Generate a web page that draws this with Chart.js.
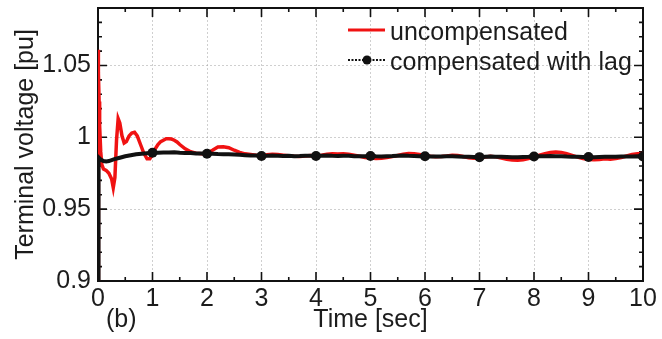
<!DOCTYPE html>
<html>
<head>
<meta charset="utf-8">
<script src="https://cdn.jsdelivr.net/npm/chart.js@4/dist/chart.umd.min.js"></script>
<style>
  html, body { margin: 0; padding: 0; background: #fff; }
  canvas { display: block; }
</style>
</head>
<body>
<canvas id="c" width="662" height="339"></canvas>
<script>
// Terminal voltage after the disturbance, uncompensated case [s, pu]
const redTime = [
  0, 0.004, 0.01, 0.02, 0.03, 0.05, 0.07, 0.1, 0.15, 0.2, 0.25, 0.28, 0.31, 0.34, 0.37,
  0.4, 0.44, 0.48, 0.52, 0.57, 0.62, 0.67, 0.72, 0.78, 0.84, 0.9, 0.95,
  1.0, 1.05, 1.1, 1.15, 1.2, 1.25, 1.3, 1.35, 1.4, 1.45, 1.5, 1.6, 1.7, 1.8, 1.9,
  2.0, 2.1, 2.2, 2.3, 2.4, 2.5, 2.6, 2.7, 2.8, 2.9,
  3.0, 3.1, 3.2, 3.3, 3.4, 3.5, 3.6, 3.7, 3.8, 3.9,
  4.0, 4.1, 4.2, 4.3, 4.4, 4.5, 4.6, 4.7, 4.8, 4.9,
  5.0, 5.1, 5.2, 5.3, 5.4, 5.5, 5.6, 5.7, 5.8, 5.9,
  6.0, 6.1, 6.2, 6.3, 6.4, 6.5, 6.6, 6.7, 6.8, 6.9,
  7.0, 7.1, 7.2, 7.3, 7.4, 7.5, 7.6, 7.7, 7.8, 7.9,
  8.0, 8.1, 8.2, 8.3, 8.4, 8.5, 8.6, 8.7, 8.8, 8.9,
  9.0, 9.1, 9.2, 9.3, 9.4, 9.5, 9.6, 9.7, 9.8, 9.9, 10.0
];
const redVolt = [
  0.85, 1.061, 1.045, 1.025, 1.008, 0.990, 0.981, 0.978, 0.977, 0.975, 0.971, 0.965, 0.972, 0.998, 1.013,
  1.010, 1.001, 0.996, 0.997, 1.001, 1.003, 1.0035, 1.001, 0.995, 0.989, 0.985, 0.985,
  0.988, 0.992, 0.995, 0.997, 0.998, 0.999, 0.999, 0.9988, 0.998, 0.9968, 0.995, 0.992, 0.990, 0.989, 0.9885,
  0.989, 0.991, 0.9932, 0.9935, 0.9928, 0.991, 0.9895, 0.9885, 0.988, 0.9875,
  0.9870, 0.9878, 0.9882, 0.9880, 0.9876, 0.9872, 0.9868, 0.9866, 0.9870, 0.9874,
  0.9872, 0.9876, 0.9882, 0.9885, 0.9884, 0.9886, 0.9882, 0.9876, 0.9868, 0.9860,
  0.9856, 0.9852, 0.9855, 0.9860, 0.9866, 0.9874, 0.9882, 0.9888, 0.9886, 0.9880,
  0.9874, 0.9868, 0.9864, 0.9866, 0.9870, 0.9876, 0.9874, 0.9866, 0.9858, 0.9854,
  0.9856, 0.9862, 0.9868, 0.9864, 0.9856, 0.9848, 0.9842, 0.9840, 0.9844, 0.9852,
  0.9864, 0.9876, 0.9886, 0.9894, 0.9898, 0.9895, 0.9886, 0.9874, 0.9862, 0.9852,
  0.9846, 0.9844, 0.9846, 0.9850, 0.9848, 0.9852, 0.9860, 0.9870, 0.9880, 0.9886, 0.9888
];

// Terminal voltage with the lag compensator [s, pu]
const blackTime = [
  0, 0.01, 0.05, 0.1, 0.15, 0.2, 0.3, 0.4, 0.5, 0.6, 0.7, 0.8, 0.9,
  1.0, 1.1, 1.2, 1.3, 1.4, 1.5, 1.6, 1.7, 1.8, 1.9,
  2.0, 2.1, 2.2, 2.3, 2.4, 2.5, 2.6, 2.7, 2.8, 2.9,
  3.0, 3.1, 3.2, 3.3, 3.4, 3.5, 3.6, 3.7, 3.8, 3.9,
  4.0, 4.1, 4.2, 4.3, 4.4, 4.5, 4.6, 4.7, 4.8, 4.9,
  5.0, 5.1, 5.2, 5.3, 5.4, 5.5, 5.6, 5.7, 5.8, 5.9,
  6.0, 6.1, 6.2, 6.3, 6.4, 6.5, 6.6, 6.7, 6.8, 6.9,
  7.0, 7.1, 7.2, 7.3, 7.4, 7.5, 7.6, 7.7, 7.8, 7.9,
  8.0, 8.1, 8.2, 8.3, 8.4, 8.5, 8.6, 8.7, 8.8, 8.9,
  9.0, 9.1, 9.2, 9.3, 9.4, 9.5, 9.6, 9.7, 9.8, 9.9, 10.0
];
const blackVolt = [
  0.86, 0.986, 0.9845, 0.9835, 0.9832, 0.9835, 0.9848, 0.9858, 0.9868, 0.9875, 0.9882, 0.9886, 0.9889,
  0.9892, 0.9893, 0.9895, 0.9894, 0.9896, 0.9893, 0.9891, 0.9890, 0.9888, 0.9887,
  0.9886, 0.9886, 0.9884, 0.9883, 0.9882, 0.9880, 0.9878, 0.9876, 0.9874, 0.9873,
  0.9870, 0.9872, 0.9874, 0.9872, 0.9870, 0.9871, 0.9869, 0.9870, 0.9872, 0.9871,
  0.9870, 0.9872, 0.9873, 0.9871, 0.9870, 0.9872, 0.9871, 0.9869, 0.9868, 0.9869,
  0.9870, 0.9868, 0.9867, 0.9869, 0.9870, 0.9872, 0.9873, 0.9871, 0.9870, 0.9869,
  0.9868, 0.9867, 0.9866, 0.9867, 0.9868, 0.9869, 0.9867, 0.9865, 0.9864, 0.9863,
  0.9862, 0.9864, 0.9866, 0.9865, 0.9864, 0.9863, 0.9862, 0.9862, 0.9863, 0.9864,
  0.9866, 0.9868, 0.9869, 0.9870, 0.9869, 0.9868, 0.9866, 0.9865, 0.9864, 0.9863,
  0.9863, 0.9862, 0.9863, 0.9864, 0.9864, 0.9865, 0.9866, 0.9867, 0.9867, 0.9868, 0.9867
];

// Marker positions on the compensated trace
const markerTimes = [1, 2, 3, 4, 5, 6, 7, 8, 9, 10];

// Axis ticks
const xMajorTicks = [0, 1, 2, 3, 4, 5, 6, 7, 8, 9, 10];
const xMinorTicks = [0.5, 1.5, 2.5, 3.5, 4.5, 5.5, 6.5, 7.5, 8.5, 9.5];
const yMajorTicks = [0.9, 0.95, 1, 1.05];
const yMinorTicks = [0.91, 0.92, 0.93, 0.94, 0.96, 0.97, 0.98, 0.99, 1.01, 1.02, 1.03, 1.04, 1.06, 1.07, 1.08];

const seriesNames = ['uncompensated', 'compensated with lag'];
const xTitle = 'Time [sec]';
const yTitle = 'Terminal voltage [pu]';
const panelTag = '(b)';

const FONT = '"Liberation Sans", Arial, Helvetica, sans-serif';
const RED = 'rgb(240,18,18)';
const BLACK = '#111';
const TEXT = '#1c1c1c';

const toPoints = (xs, ys) => xs.map((t, i) => ({ x: t, y: ys[i] }));

// Box frame with inward major/minor ticks on all four sides
const framePlugin = {
  id: 'frame',
  beforeDatasetsDraw(chart) {
    const { ctx, chartArea: { left, right, top, bottom }, scales: { x, y } } = chart;
    ctx.save();
    ctx.strokeStyle = BLACK;
    ctx.lineWidth = 1.6;
    ctx.beginPath();
    const tick = (x1, y1, x2, y2) => { ctx.moveTo(x1, y1); ctx.lineTo(x2, y2); };
    xMajorTicks.forEach(t => {
      const p = x.getPixelForValue(t);
      tick(p, bottom, p, bottom - 9);
      tick(p, top, p, top + 9);
    });
    xMinorTicks.forEach(t => {
      const p = x.getPixelForValue(t);
      tick(p, bottom, p, bottom - 4);
      tick(p, top, p, top + 4);
    });
    yMajorTicks.forEach(v => {
      const p = y.getPixelForValue(v);
      tick(left, p, left + 9, p);
      tick(right, p, right - 9, p);
    });
    yMinorTicks.forEach(v => {
      const p = y.getPixelForValue(v);
      tick(left, p, left + 4, p);
      tick(right, p, right - 4, p);
    });
    ctx.stroke();
    ctx.lineWidth = 2;
    ctx.strokeRect(left, top, right - left, bottom - top);
    ctx.restore();
  }
};

// Legend, axis titles and panel tag
const textPlugin = {
  id: 'texts',
  afterDraw(chart) {
    const { ctx, chartArea: { left, right, top, bottom } } = chart;
    ctx.save();
    ctx.font = '25px ' + FONT;
    ctx.fillStyle = TEXT;

    // legend entry 1: red solid line
    ctx.strokeStyle = RED;
    ctx.lineWidth = 3;
    ctx.beginPath();
    ctx.moveTo(348, 30); ctx.lineTo(385, 30);
    ctx.stroke();
    ctx.textAlign = 'left';
    ctx.textBaseline = 'alphabetic';
    ctx.fillText(seriesNames[0], 390, 40);

    // legend entry 2: dotted black line with a circle marker
    ctx.strokeStyle = BLACK;
    ctx.lineWidth = 2;
    ctx.setLineDash([2, 1.5]);
    ctx.beginPath();
    ctx.moveTo(348, 60); ctx.lineTo(385, 60);
    ctx.stroke();
    ctx.setLineDash([]);
    ctx.fillStyle = BLACK;
    ctx.beginPath();
    ctx.arc(367, 60, 4.5, 0, Math.PI * 2);
    ctx.fill();
    ctx.fillStyle = TEXT;
    ctx.fillText(seriesNames[1], 390, 70);

    // x title and panel tag
    ctx.textAlign = 'center';
    ctx.fillText(xTitle, (left + right) / 2, 327);
    ctx.textAlign = 'left';
    ctx.fillText(panelTag, 106, 327);

    // y title
    ctx.translate(33, (top + bottom) / 2);
    ctx.rotate(-Math.PI / 2);
    ctx.textAlign = 'center';
    ctx.textBaseline = 'alphabetic';
    ctx.fillText(yTitle, 0, 0);
    ctx.restore();
  }
};

const gridColor = 'rgba(160,160,160,0.5)';

new Chart(document.getElementById('c'), {
  type: 'line',
  data: {
    datasets: [
      {
        label: seriesNames[0],
        data: toPoints(redTime, redVolt),
        borderColor: RED,
        borderWidth: 3.5,
        pointRadius: 0,
        tension: 0,
        order: 1
      },
      {
        label: seriesNames[1],
        data: toPoints(blackTime, blackVolt),
        borderColor: BLACK,
        backgroundColor: BLACK,
        borderWidth: 4,
        pointRadius: c => (c.raw && markerTimes.includes(c.raw.x)) ? 5 : 0,
        pointBorderWidth: 0,
        tension: 0,
        order: 0
      }
    ]
  },
  options: {
    responsive: false,
    devicePixelRatio: 1,
    animation: false,
    events: [],
    layout: { padding: { left: 0, right: 19, top: 8, bottom: 0 } },
    plugins: { legend: { display: false }, tooltip: { enabled: false } },
    scales: {
      x: {
        type: 'linear',
        min: 0,
        max: 10,
        afterFit: s => { s.height = 58; s.paddingLeft = 0; s.paddingRight = 0; },
        afterBuildTicks: s => { s.ticks = xMajorTicks.map(v => ({ value: v })); },
        ticks: {
          padding: 3,
          color: TEXT,
          font: { family: FONT, size: 25 },
          maxRotation: 0,
          autoSkip: false,
          callback: v => String(v)
        },
        grid: { color: gridColor, lineWidth: 1, drawTicks: false },
        border: { display: false, dash: [2, 2] }
      },
      y: {
        type: 'linear',
        min: 0.9,
        max: 1.09,
        afterFit: s => { s.width = 98; s.paddingTop = 0; s.paddingBottom = 0; },
        afterBuildTicks: s => { s.ticks = yMajorTicks.map(v => ({ value: v })); },
        ticks: {
          padding: 7,
          color: TEXT,
          font: { family: FONT, size: 25 },
          autoSkip: false,
          callback: v => String(+Number(v).toFixed(2))
        },
        grid: { color: gridColor, lineWidth: 1, drawTicks: false },
        border: { display: false, dash: [2, 2] }
      }
    }
  },
  plugins: [framePlugin, textPlugin]
});
</script>
</body>
</html>
